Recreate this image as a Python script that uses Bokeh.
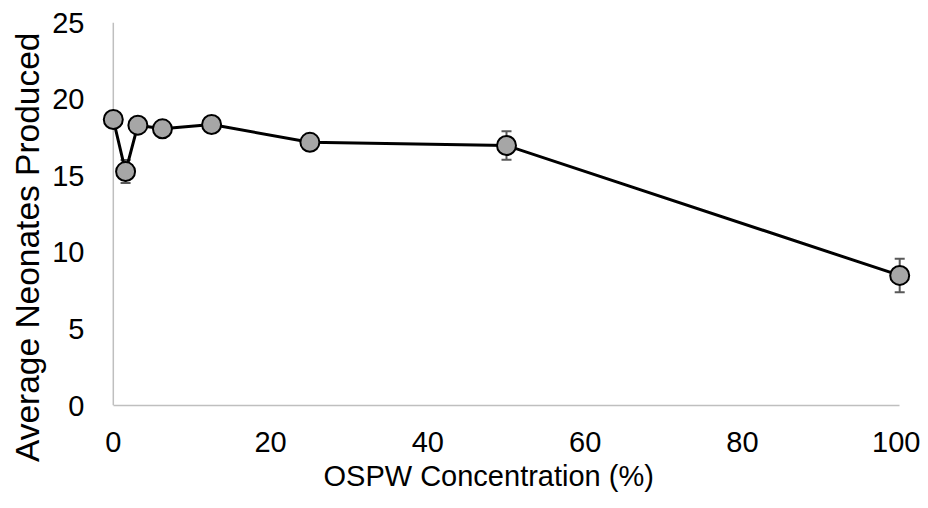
from bokeh.plotting import figure
from bokeh.models import Range1d, FixedTicker, Span, Whisker, ColumnDataSource, TeeHead, Title
from bokeh.embed import file_html
from bokeh.resources import INLINE

concentration = [0, 1.5625, 3.125, 6.25, 12.5, 25, 50, 100]
neonates = [18.67, 15.27, 18.30, 18.06, 18.34, 17.18, 16.97, 8.49]
errors = [0.4, 0.75, 0.4, 0.35, 0.4, 0.5, 0.93, 1.09]
x_ticks = [0, 20, 40, 60, 80, 100]
y_ticks = [0, 5, 10, 15, 20, 25]
x_title = "OSPW Concentration (%)"
y_title = "Average Neonates Produced"

src = ColumnDataSource(dict(
    x=concentration,
    y=neonates,
    upper=[v + e for v, e in zip(neonates, errors)],
    lower=[v - e for v, e in zip(neonates, errors)],
))

FONT = "Liberation Sans"

p = figure(width=920, height=497, output_backend="svg", toolbar_location=None,
           x_range=Range1d(-1.5, 101.5), y_range=Range1d(0, 25),
           min_border_left=101, min_border_right=9, min_border_top=22, min_border_bottom=92)
p.outline_line_color = None
p.xgrid.visible = False
p.ygrid.visible = False

# axes
p.xaxis.ticker = FixedTicker(ticks=x_ticks)
p.yaxis.ticker = FixedTicker(ticks=y_ticks)
p.xaxis.bounds = (0, 100)
for ax in (p.xaxis, p.yaxis):
    ax.major_tick_line_color = None
    ax.minor_tick_line_color = None
    ax.major_tick_out = 0
    ax.major_tick_in = 0
    ax.major_label_text_font = FONT
    ax.major_label_text_font_size = "29px"
    ax.major_label_text_color = "#000000"
p.xaxis.axis_line_color = "#bfbfbf"
p.xaxis.axis_line_width = 1.5
p.yaxis.axis_line_color = None
p.xaxis.major_label_standoff = 26
p.yaxis.major_label_standoff = 17

# axis titles (offset like the original, not centred on the frame)
p.add_layout(Title(text=x_title, align="left", offset=222, standoff=7,
                   text_font=FONT, text_font_size="29px", text_font_style="normal",
                   text_color="#000000"), "below")
p.add_layout(Title(text=y_title, align="right", offset=10, standoff=7,
                   text_font=FONT, text_font_size="33.5px", text_font_style="normal",
                   text_color="#000000"), "left")

# y axis line at x = 0
p.add_layout(Span(location=0, dimension="height", line_color="#bfbfbf",
                  line_width=1.5, level="underlay"))

# error bars
w = Whisker(source=src, base="x", upper="upper", lower="lower",
            line_color="#595959", line_width=2, level="underlay",
            upper_head=TeeHead(size=10, line_color="#595959", line_width=2),
            lower_head=TeeHead(size=10, line_color="#595959", line_width=2))
p.add_layout(w)

p.line("x", "y", source=src, line_color="#000000", line_width=3)
p.scatter("x", "y", source=src, size=19, fill_color="#a6a6a6",
          line_color="#000000", line_width=2)

open("out.html", "w").write(file_html(p, INLINE))
